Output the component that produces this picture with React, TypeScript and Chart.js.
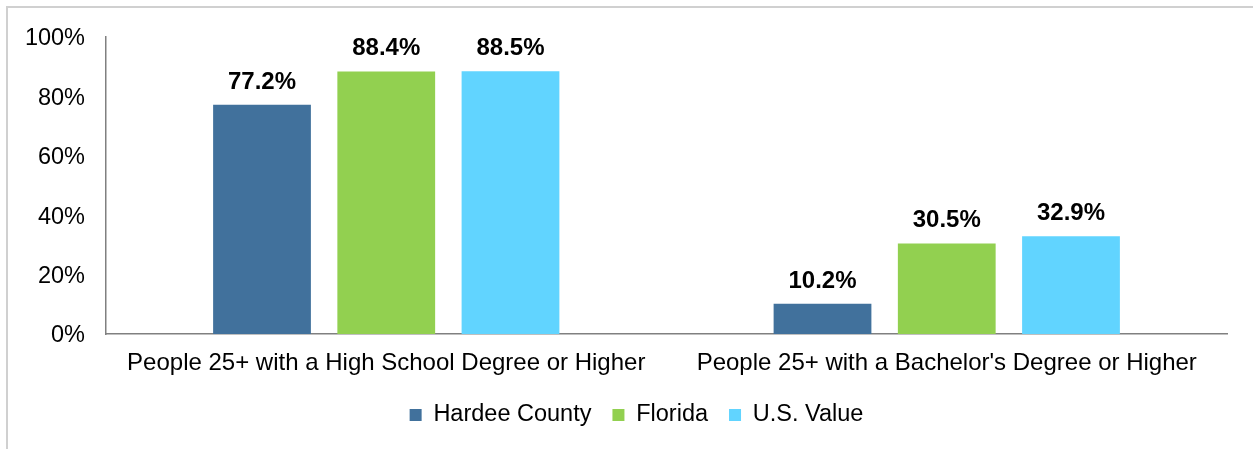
import React, { useEffect, useRef } from 'react';
import { Chart, registerables } from 'chart.js';

Chart.register(...registerables);

const categories = [
  'People 25+ with a High School Degree or Higher',
  "People 25+ with a Bachelor's Degree or Higher",
];
const seriesNames = ['Hardee County', 'Florida', 'U.S. Value'];
const hardeeValues = [77.2, 10.2];
const floridaValues = [88.4, 30.5];
const usValues = [88.5, 32.9];
const yTickValues = [0, 20, 40, 60, 80, 100];
const seriesColors = ['#41719C', '#92D050', '#61D4FF'];

const FONT = "'Liberation Sans', Arial, sans-serif";
const FONT_SIZE = 23.5;
const LABEL_SIZE = 24;
const LEGEND_PAD = 21;

const valueLabels = {
  id: 'valueLabels',
  afterDatasetsDraw(chart: any) {
    const ctx = chart.ctx;
    ctx.save();
    ctx.font = `bold ${LABEL_SIZE}px ${FONT}`;
    ctx.fillStyle = '#000';
    ctx.textAlign = 'center';
    ctx.textBaseline = 'alphabetic';
    chart.data.datasets.forEach((ds: any, di: number) => {
      const meta = chart.getDatasetMeta(di);
      meta.data.forEach((el: any, i: number) => {
        const v = ds.data[i];
        ctx.fillText(`${v.toFixed(1)}%`, el.x, el.y - 16);
      });
    });
    ctx.restore();
  },
};

const legendShift = {
  id: 'legendShift',
  afterLayout(chart: any) {
    if (chart.legend) {
      chart.legend.left += 23;
      chart.legend.right += 23;
    }
  },
};

export default function App() {
  const ref = useRef<HTMLCanvasElement | null>(null);

  useEffect(() => {
    if (!ref.current) return;
    const data = [hardeeValues, floridaValues, usValues];
    const chart = new Chart(ref.current, {
      type: 'bar',
      data: {
        labels: categories,
        datasets: seriesNames.map((name, i) => ({
          label: name,
          data: data[i],
          backgroundColor: seriesColors[i],
          borderWidth: 0,
          categoryPercentage: 0.665,
          barPercentage: 0.787,
        })),
      },
      options: {
        animation: false,
        responsive: false,
        maintainAspectRatio: false,
        layout: { padding: { left: 0, right: 26, top: 37, bottom: 12.25 } },
        plugins: {
          tooltip: { enabled: false },
          legend: {
            position: 'bottom',
            labels: {
              boxWidth: 12,
              boxHeight: 12,
              padding: LEGEND_PAD,
              color: '#000',
              font: { family: FONT, size: FONT_SIZE },
            },
          },
        },
        scales: {
          x: {
            grid: { display: false, drawTicks: false },
            border: { display: true, color: '#808080', width: 1.5 },
            ticks: {
              color: '#000',
              padding: 15,
              font: { family: FONT, size: LABEL_SIZE },
              maxRotation: 0,
              autoSkip: false,
            },
            afterFit: (s: any) => {
              s.height = 69.25 - LEGEND_PAD;
            },
          },
          y: {
            min: 0,
            max: 100,
            grid: { display: false, drawTicks: false },
            border: { display: true, color: '#808080', width: 1.5 },
            afterBuildTicks: (s: any) => {
              s.ticks = yTickValues.map((v) => ({ value: v }));
            },
            ticks: {
              color: '#000',
              padding: 21,
              labelOffset: 2,
              font: { family: FONT, size: FONT_SIZE },
              callback: (v: any) => `${v}%`,
            },
            afterFit: (s: any) => {
              s.width = 106;
            },
          },
        },
      },
      plugins: [valueLabels, legendShift],
    });
    return () => chart.destroy();
  }, []);

  return (
    <div style={{ position: 'fixed', left: 0, top: 0, width: 1253, height: 449, overflow: 'hidden', background: '#fff' }}>
      <div
        style={{
          position: 'absolute',
          left: 6,
          top: 6,
          width: 1400,
          height: 600,
          borderTop: '2px solid #d0d0d0',
          borderLeft: '2px solid #d0d0d0',
        }}
      />
      <canvas ref={ref} width={1253} height={449} style={{ position: 'absolute', left: 0, top: 0, width: 1253, height: 449 }} />
    </div>
  );
}
